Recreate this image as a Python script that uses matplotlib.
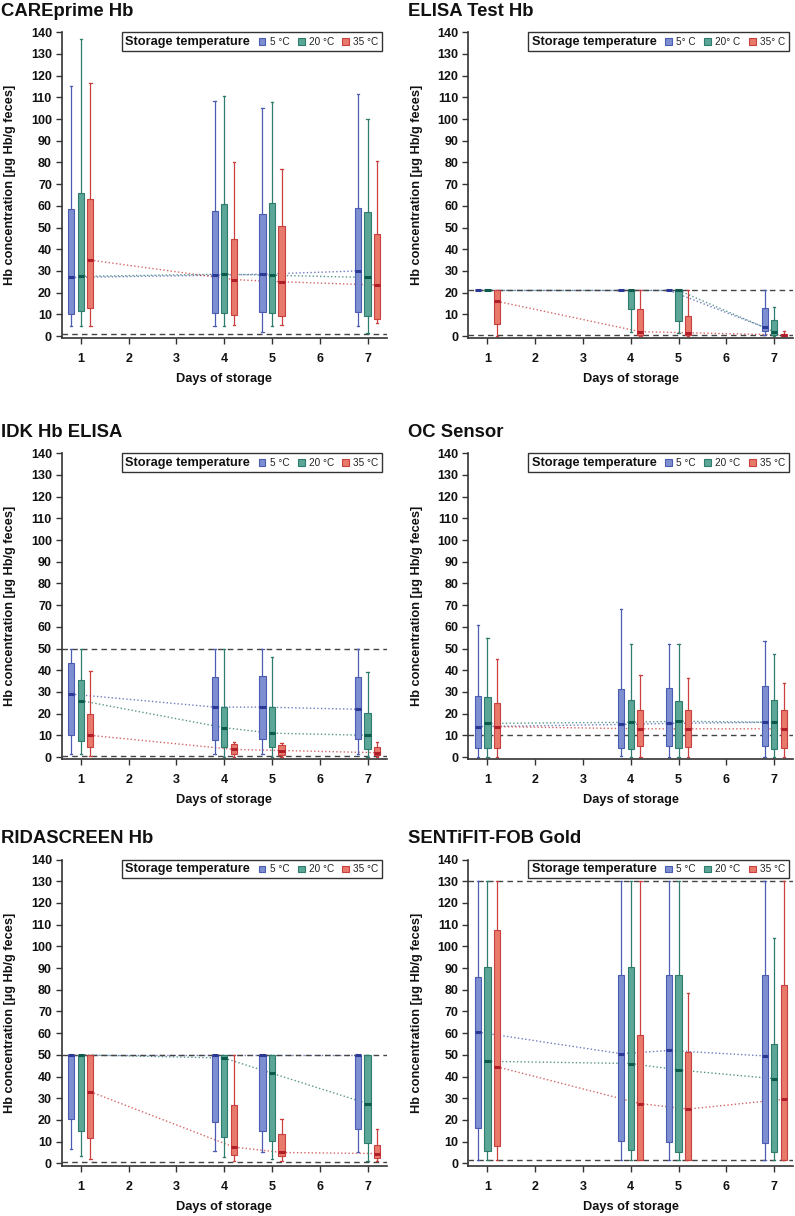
import matplotlib
matplotlib.use('Agg')
import matplotlib.pyplot as plt
from matplotlib.patches import Rectangle
from matplotlib.offsetbox import AnchoredOffsetbox, HPacker, TextArea, DrawingArea

plt.rcParams['font.family'] = ['Liberation Sans', 'DejaVu Sans']

days = [1, 4, 5, 7]
temp_labels = ['5 °C', '20 °C', '35 °C']
temp_labels_elisa = ['5° C', '20° C', '35° C']

# rows: 5 °C, 20 °C, 35 °C ; columns: days 1, 4, 5, 7
care_hi = [[115, 108.5, 105, 111.5], [137, 110.5, 108, 100], [116.5, 80, 77, 80.5]]
care_q3 = [[58.5, 57.5, 56, 59], [66, 61, 61.5, 57], [63, 44.5, 50.5, 47]]
care_med = [[27, 28, 28.5, 30], [27.5, 28.5, 28, 27], [35, 26, 25, 23.5]]
care_q1 = [[10, 10.5, 11, 11], [11.5, 10.5, 10.5, 9], [13, 9.5, 9, 8]]
care_lo = [[4.5, 4.5, 2, 4.5], [4.5, 4.5, 4.5, 1.5], [4.5, 5, 5, 6]]
care_refs = [0.8]

elisa_hi = [[21, 21, 21, 21], [21, 21, 21, 13.5], [21, 21, 21, 2.5]]
elisa_q3 = [[21, 21, 21, 13], [21, 21, 21, 7.5], [21, 12.5, 9, 1]]
elisa_med = [[21, 21, 21, 4], [21, 21, 21, 2], [16, 2, 1.5, 0.5]]
elisa_q1 = [[21, 21, 21, 2.5], [21, 12.5, 7, 0.5], [5.5, 0.5, 0.3, 0]]
elisa_lo = [[21, 21, 21, 0.5], [21, 2, 1.5, 0], [0, 0, 0, 0]]
elisa_refs = [21.2, 0.5]

idk_hi = [[50, 50, 50, 50], [50, 50, 46, 39], [39.5, 7, 6.5, 7]]
idk_q3 = [[43.5, 37, 37.5, 37], [35.5, 23, 23, 20.5], [20, 6, 5.5, 4.5]]
idk_med = [[29, 23, 23, 22], [26, 13.5, 11, 10], [10, 3.5, 3, 2]]
idk_q1 = [[10, 8, 8.5, 8.5], [7.5, 4.5, 4.5, 3.5], [4.5, 1.5, 1, 1]]
idk_lo = [[1.5, 1.5, 1.5, 1.5], [1.5, 0, 0, 0], [0.5, 0, 0, 0]]
idk_refs = [50, 0.3]

oc_hi = [[61, 68, 52, 53.5], [55, 52, 52, 47.5], [45, 38, 36.5, 34]]
oc_q3 = [[28, 31.5, 32, 32.5], [27.5, 26.5, 26, 26.5], [25, 21.5, 21.5, 21.5]]
oc_med = [[14, 15, 15.5, 16], [15.5, 16, 16.5, 16], [14, 13, 13, 13]]
oc_q1 = [[4, 4, 5, 5], [4, 3.5, 4, 3.5], [4, 5, 4.5, 4]]
oc_lo = [[0, 0.5, 0, 0], [0, 0, 0, 0], [0, 0, 0, 0]]
oc_refs = [10]

rida_hi = [[50, 50, 50, 50], [50, 50, 50, 50], [50, 50, 20.5, 16]]
rida_q3 = [[50, 50, 50, 50], [50, 50, 50, 50], [50, 27, 13.5, 8.5]]
rida_med = [[50, 50, 50, 50], [50, 48.5, 41.5, 27.5], [33, 7.5, 5, 4.5]]
rida_q1 = [[20.5, 19, 15, 16], [15, 12, 10.5, 9.5], [11.5, 4, 3.5, 2.5]]
rida_lo = [[6.5, 5.5, 5, 5], [3.5, 3, 2, 1], [2, 1, 1, 1]]
rida_refs = [50, 0.8]

senti_hi = [[130, 130, 130, 130], [130, 130, 130, 104], [130, 130, 78.5, 130]]
senti_q3 = [[86, 87, 87, 87], [90.5, 90.5, 87, 55], [107.5, 59, 51.5, 82]]
senti_med = [[60.5, 50.5, 52, 49.5], [47, 46, 43, 39], [44.5, 27.5, 25, 29.5]]
senti_q1 = [[16.5, 10.5, 10, 9.5], [5.5, 6, 5, 5], [8, 1.5, 1.5, 1.5]]
senti_lo = [[1.5, 1.5, 1.5, 1.5], [1.5, 1.5, 1.5, 1.5], [1.5, 1.5, 1.5, 1.5]]
senti_refs = [130, 1.5]

FILL = ['#7d8fd0', '#5ba697', '#e87a6c']
EDGE = ['#4b5cb2', '#2d7c6d', '#c9403f']
MEDC = ['#2a3a94', '#0c5a4b', '#b01e2a']
OFFSETS = [-0.2, 0.0, 0.2]
DARK = '#333333'


def add_legend(ax, labels):
    items = [TextArea('Storage temperature',
                      textprops=dict(fontweight='bold', fontsize=9.2, color='#111111'))]
    for t in range(3):
        da = DrawingArea(5, 5, 0, 0)
        da.add_artist(Rectangle((0, 0), 5, 5, facecolor=FILL[t], edgecolor=EDGE[t], lw=0.8))
        lab = TextArea(labels[t], textprops=dict(fontsize=7.2, color='#222222'))
        items.append(HPacker(children=[da, lab], align='center', pad=0, sep=3))
    pack = HPacker(children=items, align='center', pad=0, sep=6)
    box = AnchoredOffsetbox(loc='upper right', child=pack, pad=0.25, borderpad=0,
                            frameon=True, bbox_to_anchor=(0.986, 1.0),
                            bbox_transform=ax.transAxes)
    box.patch.set_boxstyle('square,pad=0')
    box.patch.set_edgecolor(DARK)
    box.patch.set_linewidth(1.0)
    ax.add_artist(box)


def draw_panel(ax, title, lo, q1, med, q3, hi, refs, labels):
    for v in refs:
        ax.axhline(v, ls=(0, (4, 3)), color='#444444', lw=1.0, zorder=1.5)
    for t in range(3):
        pos = [d + OFFSETS[t] for d in days]
        stats = [dict(whislo=lo[t][i], q1=q1[t][i], med=med[t][i], q3=q3[t][i],
                      whishi=hi[t][i], fliers=[]) for i in range(len(days))]
        ax.plot(pos, med[t], ls=':', color=EDGE[t], lw=1.0, alpha=0.8, zorder=1)
        ax.bxp(stats, positions=pos, widths=0.13, capwidths=0.05, patch_artist=True,
               showfliers=False, manage_ticks=False,
               boxprops=dict(facecolor=FILL[t], edgecolor=EDGE[t], linewidth=0.8),
               whiskerprops=dict(color=EDGE[t], lw=0.9),
               capprops=dict(color=EDGE[t], lw=0.9),
               medianprops=dict(color=MEDC[t], lw=2.2, solid_capstyle='butt'))
    ax.set_xlim(0.6, 7.4)
    ax.set_ylim(-1, 140)
    ax.set_xticks(range(1, 8))
    ax.set_yticks(range(0, 141, 10))
    ax.tick_params(axis='both', colors=DARK, labelcolor='#111111', labelsize=9,
                   width=1.0)
    ax.tick_params(axis='x', length=4, pad=7)
    ax.tick_params(axis='y', length=4, pad=3)
    for lab in ax.get_xticklabels() + ax.get_yticklabels():
        lab.set_fontweight('bold')
    for s in ['top', 'right']:
        ax.spines[s].set_visible(False)
    for s in ['left', 'bottom']:
        ax.spines[s].set_color(DARK)
        ax.spines[s].set_linewidth(1.2)
    ax.set_xlabel('Days of storage', fontsize=9.2, fontweight='bold', color='#111111')
    ax.xaxis.set_label_coords(0.5, -0.115)
    ax.set_ylabel('Hb concentration [µg Hb/g feces]', fontsize=9.2, fontweight='bold',
                  color='#111111')
    ax.yaxis.set_label_coords(-0.14, 0.5)
    ax.set_title(title, loc='left', x=-0.186, pad=12, fontsize=13.3, fontweight='bold',
                 color='#111111')
    add_legend(ax, labels)


fig = plt.figure(figsize=(7.95, 12.16), dpi=100)
W, H = 795, 1216
col_left = [61.7, 468.3]
row_bottom = [338.2, 759.2, 1165.5]
aw, ah = 325 / W, 306 / H

panels = [
    ('CAREprime Hb', care_lo, care_q1, care_med, care_q3, care_hi, care_refs, temp_labels),
    ('ELISA Test Hb', elisa_lo, elisa_q1, elisa_med, elisa_q3, elisa_hi, elisa_refs, temp_labels_elisa),
    ('IDK Hb ELISA', idk_lo, idk_q1, idk_med, idk_q3, idk_hi, idk_refs, temp_labels),
    ('OC Sensor', oc_lo, oc_q1, oc_med, oc_q3, oc_hi, oc_refs, temp_labels),
    ('RIDASCREEN Hb', rida_lo, rida_q1, rida_med, rida_q3, rida_hi, rida_refs, temp_labels),
    ('SENTiFIT-FOB Gold', senti_lo, senti_q1, senti_med, senti_q3, senti_hi, senti_refs, temp_labels),
]

for k, p in enumerate(panels):
    r, c = divmod(k, 2)
    ax = fig.add_axes([col_left[c] / W, 1 - row_bottom[r] / H, aw, ah])
    draw_panel(ax, *p)

fig.savefig('out.png', dpi=100)
